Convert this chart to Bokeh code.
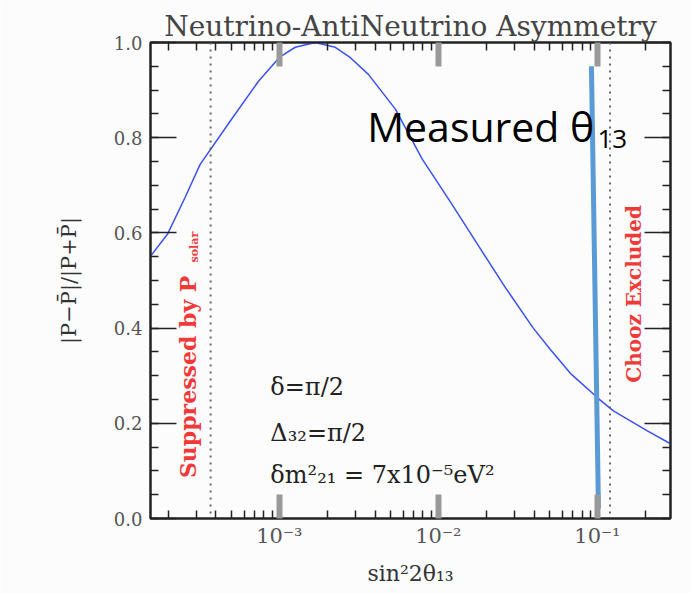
import numpy as np
from bokeh.plotting import figure
from bokeh.models import LogAxis, LinearAxis, Label, Span, FixedTicker, NumeralTickFormatter
from bokeh.embed import file_html
from bokeh.resources import INLINE

# ---- data ----
sin2_2theta13 = [1.55e-4, 1.98e-4, 2.56e-4, 3.18e-4, 4.92e-4, 7.38e-4, 1.01e-3, 1.26e-3,
                 1.68e-3, 2.25e-3, 2.80e-3, 3.63e-3, 5.37e-3, 7.92e-3, 1.19e-2, 1.81e-2,
                 2.64e-2, 3.95e-2, 5.06e-2, 6.76e-2, 0.1014, 0.126, 0.206, 0.288]
asymmetry = [0.551, 0.597, 0.675, 0.744, 0.835, 0.918, 0.970, 0.990,
             1.000, 0.990, 0.968, 0.933, 0.860, 0.755, 0.665, 0.570,
             0.485, 0.400, 0.355, 0.305, 0.252, 0.226, 0.184, 0.157]

x_ticks = [1e-3, 1e-2, 1e-1]
x_tick_labels = ["10⁻³", "10⁻²", "10⁻¹"]
x_minor_ticks = [k * 10.0 ** d for d in range(-4, 0) for k in range(2, 10)]
y_ticks = [0.0, 0.2, 0.4, 0.6, 0.8, 1.0]
y_minor_ticks = [i * 0.05 for i in range(21)]

solar_limit = 3.7e-4      # "Suppressed by P_solar"
chooz_limit = 0.12        # "Chooz Excluded"
measured_x = [0.0917, 0.1015]
measured_y = [0.95, 0.021]

x_min, x_max = 1.55e-4, 0.288
y_min, y_max = 0.0, 1.0

SERIF = "DejaVu Serif"
RED = "#f03a3a"

p = figure(width=691, height=593, x_axis_type="log", x_range=(x_min, x_max),
           y_range=(y_min, y_max), output_backend="svg", toolbar_location=None,
           min_border_left=150, min_border_right=21, min_border_top=42,
           min_border_bottom=75, background_fill_color="#fcfcfc",
           border_fill_color="#fcfcfc")
p.grid.visible = False
p.outline_line_color = "#222222"
p.outline_line_width = 2

p.title.text = "Neutrino-AntiNeutrino Asymmetry"
p.title.align = "center"
p.title.text_font = SERIF
p.title.text_font_size = "28px"
p.title.text_font_style = "normal"
p.title.text_color = "#444444"
p.title.standoff = 0

xt = FixedTicker(ticks=x_ticks, minor_ticks=x_minor_ticks)
yt = FixedTicker(ticks=y_ticks, minor_ticks=y_minor_ticks)

def style(ax, ticker, x_axis):
    ax.ticker = ticker
    ax.axis_line_color = "#222222"
    ax.axis_line_width = 2
    ax.major_tick_out = 0
    ax.minor_tick_out = 0
    ax.minor_tick_in = 8
    ax.minor_tick_line_color = "#222222"
    ax.minor_tick_line_width = 1.5
    if x_axis:
        ax.major_tick_in = 24
        ax.major_tick_line_width = 6
        ax.major_tick_line_color = "#999999"
    else:
        ax.major_tick_in = 26
        ax.major_tick_line_width = 1.5
        ax.major_tick_line_color = "#222222"

xa = p.xaxis[0]
style(xa, xt, True)
xa.major_label_overrides = dict(zip(x_ticks, x_tick_labels))
xa.major_label_text_font = SERIF
xa.major_label_text_font_size = "21px"
xa.major_label_text_color = "#555555"
xa.major_label_standoff = 5
xa.axis_label = "sin²2θ₁₃"
xa.axis_label_text_font = SERIF
xa.axis_label_text_font_size = "22px"
xa.axis_label_text_font_style = "normal"
xa.axis_label_text_color = "#333333"
xa.axis_label_standoff = 10

ya = p.yaxis[0]
style(ya, yt, False)
ya.formatter = NumeralTickFormatter(format="0.0")
ya.major_label_text_font = SERIF
ya.major_label_text_font_size = "18px"
ya.major_label_text_color = "#555555"
ya.major_label_standoff = 8
ya.axis_label = "|P−P̄|/|P+P̄|"
ya.axis_label_text_font = SERIF
ya.axis_label_text_font_size = "21px"
ya.axis_label_text_font_style = "normal"
ya.axis_label_text_color = "#333333"
ya.axis_label_standoff = 30

top = LogAxis(ticker=xt, major_label_text_font_size="1px", major_label_text_alpha=0,
              major_label_standoff=0)
style(top, xt, True)
p.add_layout(top, "above")
right = LinearAxis(ticker=yt, major_label_text_font_size="1px", major_label_text_alpha=0,
                   major_label_standoff=0)
style(right, yt, False)
p.add_layout(right, "right")

# limits
for loc in (solar_limit, chooz_limit):
    p.add_layout(Span(location=loc, dimension="height", line_color="#666666",
                      line_width=2, line_dash="2 5"))

# asymmetry curve
p.line(sin2_2theta13, asymmetry, line_color="#3a52f2", line_width=1.5)

# measured theta13
p.line(measured_x, measured_y, line_color="#5b9bd5", line_width=5)

# red rotated texts
p.add_layout(Label(x=2.68e-4, y=0.085, text="Suppressed by P", angle=np.pi / 2,
                   text_align="left", text_baseline="middle", text_font=SERIF,
                   text_font_size="22px", text_font_style="bold", text_color=RED))
p.add_layout(Label(x=2.95e-4, y=0.538, text="solar", angle=np.pi / 2,
                   text_align="left", text_baseline="middle", text_font=SERIF,
                   text_font_size="11px", text_font_style="bold", text_color=RED))
p.add_layout(Label(x=0.171, y=0.472, text="Chooz Excluded", angle=np.pi / 2,
                   text_align="center", text_baseline="middle", text_font=SERIF,
                   text_font_size="20px", text_font_style="bold", text_color=RED))

# parameter texts
for txt, yy in (("δ=π/2", 0.277), ("Δ₃₂=π/2", 0.180), ("δm²₂₁ = 7x10⁻⁵eV²", 0.092)):
    p.add_layout(Label(x=8.78e-4, y=yy, text=txt, text_align="left",
                       text_baseline="alphabetic", text_font=SERIF,
                       text_font_size="24px", text_color="#222222"))

# Measured theta13 annotation
p.add_layout(Label(x=3.57e-3, y=0.824, text="Measured θ", text_align="left",
                   text_baseline="alphabetic", text_font="Open Sans",
                   text_font_size="41px", text_color="#000000"))
p.add_layout(Label(x=0.1, y=0.797, text="13", text_align="left",
                   text_baseline="alphabetic", text_font="Open Sans",
                   text_font_size="26px", text_color="#000000"))

open("out.html", "w").write(file_html(p, INLINE))
